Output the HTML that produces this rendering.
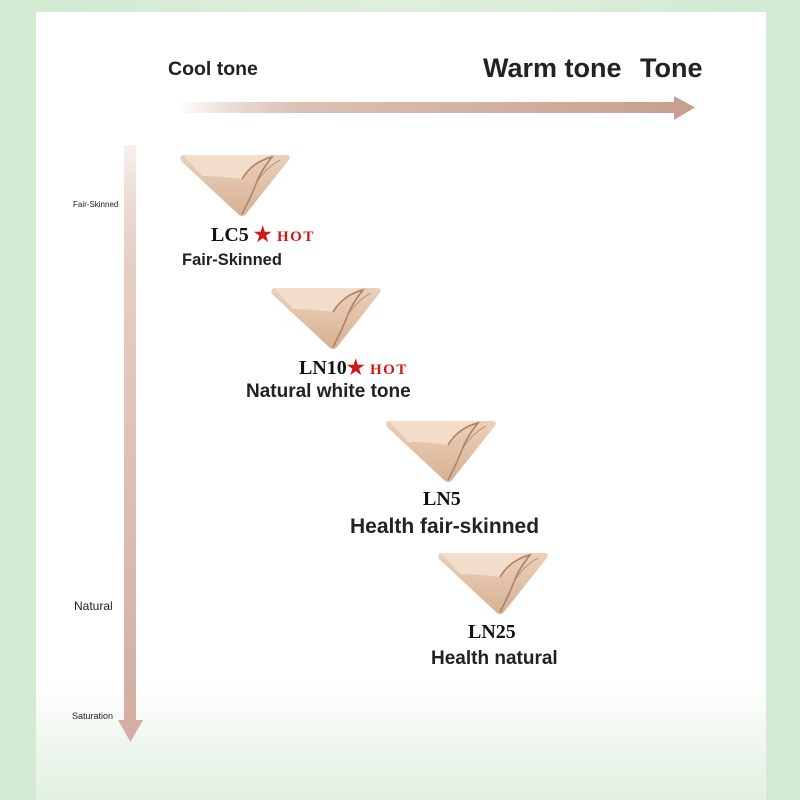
<!DOCTYPE html>
<html><head><meta charset="utf-8"><style>
html,body{margin:0;padding:0}
body{width:800px;height:800px;position:relative;overflow:hidden;background:linear-gradient(90deg,#d3e9d2 0%,#def0dc 50%,#d3e9d2 100%);font-family:"Liberation Sans",sans-serif}
.panel{position:absolute;left:36px;top:12px;width:730px;height:788px;background:linear-gradient(180deg,#fff 0%,#fff 85%,#eef6ee 93%,#e2f1e1 100%)}
.t{position:absolute;color:#222;white-space:nowrap;font-weight:bold}
.code{position:absolute;font-family:"Liberation Serif",serif;font-weight:bold;font-size:20px;color:#111;white-space:nowrap}
.hot{color:#d01818;font-size:15px;letter-spacing:1.5px}
.star{color:#d01818;font-size:20px}
</style></head><body>
<div class="panel"></div>
<svg width="800" height="800" style="position:absolute;left:0;top:0">
<defs>
<linearGradient id="ha" x1="0" x2="1"><stop offset="0" stop-color="#c9a396" stop-opacity="0"/><stop offset="0.25" stop-color="#dcc1b4"/><stop offset="1" stop-color="#c9a090"/></linearGradient>
<linearGradient id="va" x1="0" y1="0" x2="0" y2="1"><stop offset="0" stop-color="#d8b8aa" stop-opacity="0.2"/><stop offset="0.2" stop-color="#e6cfc6"/><stop offset="1" stop-color="#d3aea2"/></linearGradient>
<linearGradient id="tri" x1="0" y1="0" x2="0" y2="1"><stop offset="0" stop-color="#ecd0b9"/><stop offset="1" stop-color="#d6b194"/></linearGradient>
<g id="T">
<path d="M3,1 L107,1 Q112,2 108,7 L66,60 Q62,64 58,60 L1,7 Q-1,2 3,1Z" fill="url(#tri)"/>
<path d="M3,1 L90,1 Q70,10 62,25 Q40,22 22,22 Z" fill="#f3dfcd" opacity="0.9"/>
<path d="M62,25 Q72,8 92,3 Q80,18 76,30 Q70,45 62,60" fill="none" stroke="#a98066" stroke-width="1.5"/>
<path d="M76,30 Q84,15 100,6" fill="none" stroke="#b58c72" stroke-width="1"/>
</g>
</defs>
<rect x="178" y="102" width="498" height="11" fill="url(#ha)"/>
<polygon points="674,96 695,107.5 674,120" fill="#c9a090"/>
<rect x="124" y="145" width="12" height="578" fill="url(#va)"/>
<polygon points="118,720 143,720 130.5,742" fill="#d3aea2"/>
<use href="#T" x="180" y="154"/>
<use href="#T" x="271" y="287"/>
<use href="#T" x="386" y="420"/>
<use href="#T" x="438" y="552"/>
</svg>
<div class="t" style="left:168px;top:58px;font-size:19.5px">Cool tone</div>
<div class="t" style="left:483px;top:53px;font-size:27px">Warm tone</div>
<div class="t" style="left:640px;top:53px;font-size:27px">Tone</div>
<div class="t" style="left:73px;top:200px;font-size:8px;font-weight:normal">Fair-Skinned</div>
<div class="t" style="left:74px;top:599px;font-size:12px;font-weight:normal">Natural</div>
<div class="t" style="left:72px;top:711px;font-size:9px;font-weight:normal">Saturation</div>
<div class="code" style="left:211px;top:222px">LC5 <span class="star">★</span><span class="hot"> HOT</span></div>
<div class="t" style="left:182px;top:251px;font-size:16.5px">Fair-Skinned</div>
<div class="code" style="left:299px;top:355px">LN10<span class="star">★</span><span class="hot"> HOT</span></div>
<div class="t" style="left:246px;top:381px;font-size:19px">Natural white tone</div>
<div class="code" style="left:423px;top:488px">LN5</div>
<div class="t" style="left:350px;top:515px;font-size:21px">Health fair-skinned</div>
<div class="code" style="left:468px;top:621px">LN25</div>
<div class="t" style="left:431px;top:648px;font-size:19px">Health natural</div>
</body></html>
